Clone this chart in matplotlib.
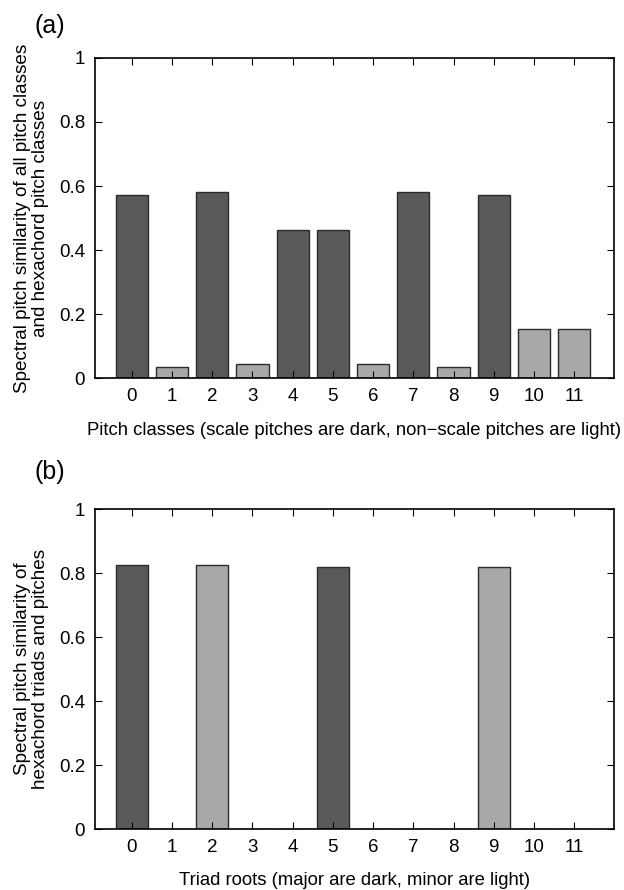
import numpy as np
import matplotlib.pyplot as plt

plt.rcParams['font.family'] = ['Liberation Sans', 'DejaVu Sans']

# panel (a): spectral pitch similarity of pitch classes and hexachord
pitch_classes = list(range(12))
similarity_a = [0.573, 0.036, 0.580, 0.044, 0.462, 0.462,
                0.044, 0.580, 0.036, 0.573, 0.154, 0.154]
scale_pitch = [True, False, True, False, True, True,
               False, True, False, True, False, False]

# panel (b): triads vs hexachord
triad_roots = list(range(12))
similarity_b = [0.824, 0.0, 0.824, 0.0, 0.0, 0.820,
                0.0, 0.0, 0.0, 0.820, 0.0, 0.0]
major_triad = [True, False, False, False, False, True,
               False, False, False, False, False, False]

DARK = '#58595b'
LIGHT = '#a7a8aa'
EDGE = '#2b2b2b'

fig = plt.figure(figsize=(6.24, 8.9), dpi=100)
ax_a = fig.add_axes([0.152, 0.575, 0.832, 0.36])
ax_b = fig.add_axes([0.152, 0.0685, 0.832, 0.3595])


def draw_panel(ax, x, y, dark, xlabel, ylabel):
    colors = [DARK if d else LIGHT for d in dark]
    ax.bar(x, y, width=0.8, color=colors, edgecolor=EDGE, linewidth=1.0)
    ax.set_xlim(-0.92, 11.99)
    ax.set_ylim(0, 1)
    ax.set_xticks(x)
    ax.set_yticks([0, 0.2, 0.4, 0.6, 0.8, 1])
    ax.set_yticklabels(['0', '0.2', '0.4', '0.6', '0.8', '1'])
    ax.tick_params(direction='in', top=True, right=True, length=5,
                   width=0.8, labelsize=13.5, pad=7)
    for s in ax.spines.values():
        s.set_linewidth(1.2)
    ax.set_xlabel(xlabel, fontsize=13.3, labelpad=12)
    ax.set_ylabel(ylabel, fontsize=13.6, labelpad=7, linespacing=1.1)


draw_panel(ax_a, pitch_classes, similarity_a, scale_pitch,
           'Pitch classes (scale pitches are dark, non\u2212scale pitches are light)',
           'Spectral pitch similarity of all pitch classes\nand hexachord pitch classes')
draw_panel(ax_b, triad_roots, similarity_b, major_triad,
           'Triad roots (major are dark, minor are light)',
           'Spectral pitch similarity of\nhexachord triads and pitches')

fig.text(35 / 624, 1 - 26 / 890, '(a)', fontsize=18, va='center', ha='left')
fig.text(35 / 624, 1 - 472 / 890, '(b)', fontsize=18, va='center', ha='left')

fig.savefig('out.png', dpi=100)
